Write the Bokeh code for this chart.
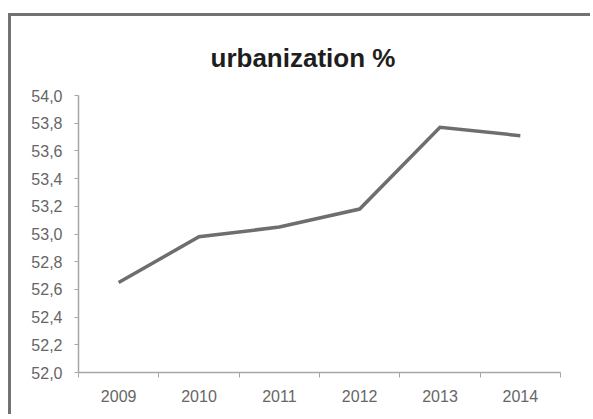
from bokeh.plotting import figure
from bokeh.models import FixedTicker, Title, Range1d
from bokeh.embed import file_html
from bokeh.resources import INLINE

years = ["2009", "2010", "2011", "2012", "2013", "2014"]
urbanization = [52.65, 52.98, 53.05, 53.18, 53.77, 53.71]
y_ticks = [52.0, 52.2, 52.4, 52.6, 52.8, 53.0, 53.2, 53.4, 53.6, 53.8, 54.0]
title_text = "urbanization %"

xs = [i + 0.5 for i in range(len(years))]

p = figure(width=582, height=401, output_backend="svg", toolbar_location=None,
           x_range=Range1d(0, len(years)), y_range=Range1d(y_ticks[0], y_ticks[-1]),
           min_border_left=67, min_border_right=33, min_border_top=79, min_border_bottom=45)
p.styles = {"margin-left": "8px", "margin-top": "13px",
            "border-left": "3px solid #727272", "border-top": "3px solid #727272"}
p.outline_line_color = None
p.background_fill_color = "white"
p.border_fill_color = "white"
p.xgrid.grid_line_color = None
p.ygrid.grid_line_color = None

p.title = Title(text=title_text, align="left", offset=132, text_font="Liberation Sans",
                text_font_size="26px", text_font_style="bold", text_color="#1e1e1e",
                standoff=46)

p.line(xs, urbanization, line_color="#6e6e6e", line_width=3.5, line_join="miter")

axis_color = "#a6a6a6"
label_color = "#666666"

p.xaxis.ticker = FixedTicker(ticks=xs, minor_ticks=list(range(len(years) + 1)))
p.xaxis.major_label_overrides = {x: y for x, y in zip(xs, years)}
p.xaxis.major_tick_line_color = None
p.xaxis.minor_tick_line_color = axis_color
p.xaxis.minor_tick_out = 5
p.xaxis.minor_tick_in = 0
p.xaxis.axis_line_color = axis_color
p.xaxis.axis_line_width = 1.5
p.xaxis.major_label_text_font = "Liberation Sans"
p.xaxis.major_label_text_font_size = "16px"
p.xaxis.major_label_text_color = label_color
p.xaxis.major_label_standoff = 11

p.yaxis.ticker = FixedTicker(ticks=y_ticks, minor_ticks=[])
p.yaxis.major_label_overrides = {t: f"{t:.1f}".replace(".", ",") for t in y_ticks}
p.yaxis.major_tick_line_color = axis_color
p.yaxis.major_tick_out = 4
p.yaxis.major_tick_in = 0
p.yaxis.axis_line_color = axis_color
p.yaxis.axis_line_width = 1.5
p.yaxis.major_label_text_font = "Liberation Sans"
p.yaxis.major_label_text_font_size = "16px"
p.yaxis.major_label_text_color = label_color
p.yaxis.major_label_standoff = 12

open("out.html", "w").write(file_html(p, INLINE))
